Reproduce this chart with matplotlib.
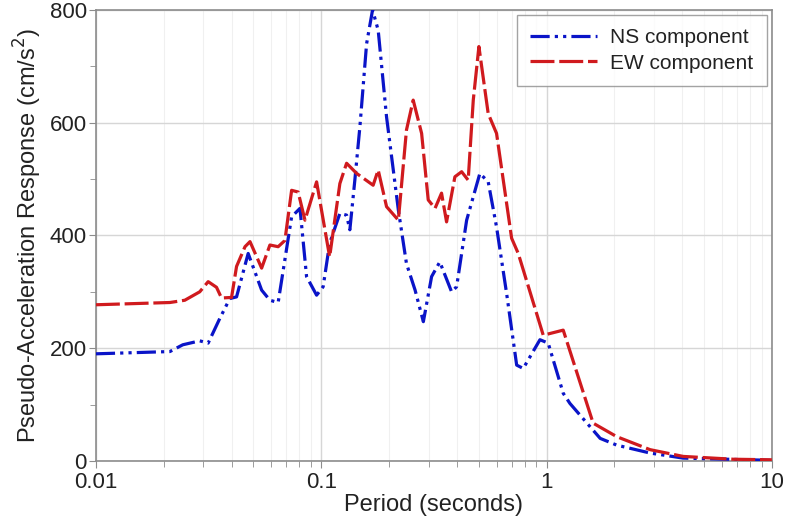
import numpy as np
import matplotlib
matplotlib.use("Agg")
import matplotlib.pyplot as plt
from matplotlib.ticker import LogLocator, FixedLocator, NullFormatter

# period (s) and pseudo-acceleration (cm/s^2)
ns_period = [0.01, 0.0213, 0.0243, 0.0289, 0.0315, 0.0355, 0.0393, 0.0421, 0.0474,
             0.0544, 0.0592, 0.0644, 0.0739, 0.0805, 0.0861, 0.0954, 0.102, 0.109,
             0.121, 0.1296, 0.134, 0.141, 0.1485, 0.159, 0.169, 0.179, 0.195, 0.220,
             0.239, 0.261, 0.284, 0.309, 0.336, 0.379, 0.399, 0.442, 0.506, 0.551,
             0.60, 0.665, 0.737, 0.788, 0.935, 1.017, 1.186, 1.27, 1.73, 2.05, 2.88,
             4.04, 10.0]
ns_psa = [190, 194, 206, 213, 209, 253, 288, 291, 368,
          303, 285, 281, 433, 448, 327, 294, 309, 386,
          439, 436, 410, 498, 593, 740, 800, 764, 610, 445,
          350, 303, 247, 327, 353, 300, 309, 427, 510, 495,
          415, 297, 170, 164, 215, 209, 120, 102, 40, 28, 14,
          5, 1]

ew_period = [0.01, 0.0213, 0.0248, 0.0289, 0.0315, 0.0343, 0.0361, 0.040, 0.0421,
             0.0459, 0.0483, 0.0544, 0.0592, 0.0644, 0.069, 0.0739, 0.079, 0.0847,
             0.0954, 0.109, 0.121, 0.1296, 0.1436, 0.170, 0.179, 0.195, 0.220, 0.239,
             0.256, 0.279, 0.2985, 0.320, 0.342, 0.360, 0.392, 0.420, 0.449, 0.473,
             0.501, 0.551, 0.600, 0.700, 0.749, 0.967, 1.186, 1.61, 2.05, 2.88, 4.04,
             6.74, 10.0]
ew_psa = [277, 281, 285, 300, 318, 308, 289, 290, 345,
          380, 389, 342, 383, 380, 391, 480, 477, 427,
          495, 362, 492, 528, 510, 489, 516, 451, 427, 587,
          640, 581, 463, 448, 475, 424, 504, 513, 498, 640,
          735, 616, 581, 395, 368, 223, 232, 67, 43, 20, 8,
          3, 2]

plt.rcParams["font.family"] = ["Liberation Sans", "DejaVu Sans"]
txt = "#222222"

fig = plt.figure(figsize=(7.86, 5.22), dpi=100)
ax = fig.add_axes([0.122, 0.117, 0.860, 0.864])

ax.plot(ns_period, ns_psa, color="#0a14c8", lw=2.3,
        linestyle=(0, (6, 1.6, 1, 1.6, 1, 1.6)), label="NS component", zorder=3)
ax.plot(ew_period, ew_psa, color="#d01a1e", lw=2.3,
        linestyle=(0, (7.5, 1.5)), label="EW component", zorder=3)

ax.set_xscale("log")
ax.set_xlim(0.01, 10)
ax.set_ylim(0, 800)
ax.set_xticks([0.01, 0.1, 1, 10])
ax.set_xticklabels(["0.01", "0.1", "1", "10"])
ax.xaxis.set_minor_locator(LogLocator(base=10, subs=np.arange(2, 10)))
ax.xaxis.set_minor_formatter(NullFormatter())
ax.set_yticks([0, 200, 400, 600, 800])
ax.yaxis.set_minor_locator(FixedLocator([100, 300, 500, 700]))

ax.grid(which="major", axis="both", color="#d6d6d6", lw=1.0)
ax.grid(which="minor", axis="x", color="#f0f0f0", lw=0.8)

for s in ax.spines.values():
    s.set_color("#8c8c8c")
    s.set_linewidth(1.2)
ax.tick_params(which="both", colors="#8c8c8c", labelcolor=txt, labelsize=16,
               direction="out")
ax.tick_params(which="major", length=5)
ax.tick_params(which="minor", length=4)
ax.tick_params(axis="x", which="major", pad=3)
ax.tick_params(axis="y", which="major", pad=1.5)

ax.set_xlabel("Period (seconds)", fontsize=17, color=txt, labelpad=1)
ax.set_ylabel("Pseudo-Acceleration Response (cm/s$^2$)", fontsize=17, color=txt,
              labelpad=4)

leg = ax.legend(loc="upper right", fontsize=15, frameon=True, fancybox=False,
                handlelength=3.2, handletextpad=0.65, borderpad=0.65,
                labelspacing=0.3, borderaxespad=0, bbox_to_anchor=(0.993, 0.989))
leg.get_frame().set_edgecolor("#8c8c8c")
leg.get_frame().set_linewidth(1.0)
for t in leg.get_texts():
    t.set_color(txt)

fig.savefig("out.png", dpi=100)
